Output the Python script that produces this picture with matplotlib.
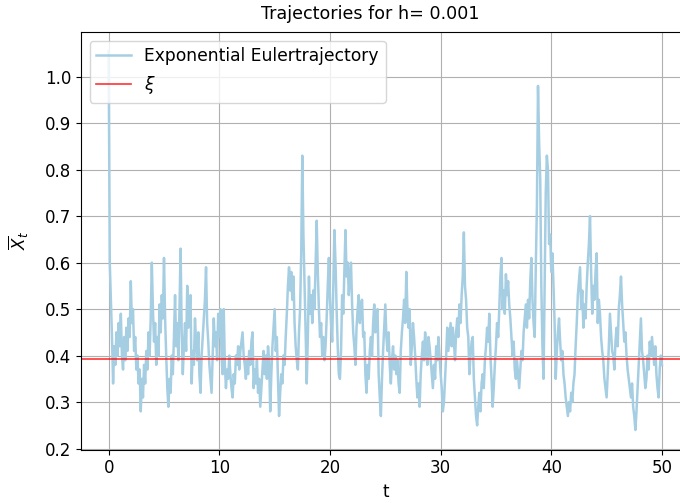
import numpy as np
import matplotlib
matplotlib.use("Agg")
import matplotlib.pyplot as plt

plt.rcParams['font.size'] = 12

# trajectory values, one every 0.1 time units
seg0 = [1.055, 0.60, 0.52, 0.44, 0.34, 0.42, 0.38, 0.45, 0.40, 0.47,
        0.42, 0.49, 0.40, 0.37, 0.44, 0.39, 0.46, 0.41, 0.48, 0.44,
        0.56, 0.47, 0.50, 0.41, 0.44, 0.37, 0.40, 0.34, 0.37, 0.28,
        0.35, 0.31, 0.38, 0.34, 0.41, 0.37, 0.45, 0.40, 0.48, 0.60,
        0.50, 0.43, 0.47, 0.38, 0.44, 0.40, 0.51, 0.45, 0.53, 0.48]
seg1 = [0.61, 0.48, 0.40, 0.33, 0.29, 0.35, 0.32, 0.40, 0.36, 0.44,
        0.53, 0.42, 0.47, 0.39, 0.50, 0.63, 0.45, 0.36, 0.42, 0.47,
        0.41, 0.55, 0.46, 0.50, 0.53, 0.34, 0.41, 0.38, 0.48, 0.43,
        0.39, 0.45, 0.36, 0.32, 0.40, 0.44, 0.48, 0.52, 0.59, 0.47,
        0.43, 0.38, 0.35, 0.32, 0.40, 0.48, 0.42, 0.45, 0.39, 0.49]
seg2 = [0.44, 0.50, 0.40, 0.36, 0.50, 0.38, 0.33, 0.37, 0.35, 0.40,
        0.36, 0.33, 0.31, 0.36, 0.34, 0.40, 0.38, 0.42, 0.37, 0.41,
        0.43, 0.45, 0.40, 0.38, 0.35, 0.39, 0.36, 0.41, 0.38, 0.43,
        0.45, 0.33, 0.37, 0.34, 0.39, 0.32, 0.35, 0.29, 0.33, 0.37,
        0.41, 0.36, 0.40, 0.35, 0.42, 0.39, 0.28, 0.36, 0.42, 0.46]
seg3 = [0.50, 0.41, 0.44, 0.35, 0.27, 0.32, 0.36, 0.34, 0.40, 0.38,
        0.44, 0.49, 0.55, 0.59, 0.54, 0.58, 0.52, 0.57, 0.47, 0.42,
        0.39, 0.37, 0.45, 0.50, 0.62, 0.83, 0.66, 0.56, 0.45, 0.34,
        0.44, 0.57, 0.49, 0.53, 0.47, 0.54, 0.50, 0.60, 0.69, 0.58,
        0.50, 0.44, 0.47, 0.40, 0.44, 0.39, 0.42, 0.48, 0.55, 0.61]
seg4 = [0.52, 0.47, 0.43, 0.55, 0.67, 0.60, 0.50, 0.42, 0.36, 0.35,
        0.41, 0.53, 0.49, 0.58, 0.67, 0.57, 0.60, 0.53, 0.57, 0.60,
        0.51, 0.45, 0.42, 0.38, 0.46, 0.50, 0.53, 0.47, 0.51, 0.52,
        0.44, 0.45, 0.36, 0.32, 0.38, 0.35, 0.41, 0.44, 0.40, 0.47,
        0.51, 0.45, 0.49, 0.50, 0.36, 0.31, 0.27, 0.35, 0.41, 0.46]
seg5 = [0.51, 0.44, 0.41, 0.45, 0.38, 0.34, 0.39, 0.42, 0.37, 0.40,
        0.36, 0.39, 0.34, 0.32, 0.41, 0.45, 0.48, 0.52, 0.47, 0.58,
        0.50, 0.46, 0.50, 0.38, 0.42, 0.47, 0.44, 0.40, 0.35, 0.31,
        0.34, 0.29, 0.36, 0.40, 0.43, 0.39, 0.45, 0.41, 0.38, 0.44,
        0.42, 0.39, 0.36, 0.33, 0.38, 0.35, 0.42, 0.39, 0.44, 0.40]
seg6 = [0.36, 0.33, 0.28, 0.30, 0.35, 0.40, 0.46, 0.41, 0.44, 0.47,
        0.42, 0.46, 0.43, 0.39, 0.45, 0.48, 0.44, 0.51, 0.47, 0.53,
        0.57, 0.665, 0.55, 0.52, 0.46, 0.44, 0.36, 0.40, 0.43, 0.44,
        0.35, 0.31, 0.27, 0.25, 0.29, 0.32, 0.28, 0.34, 0.36, 0.33,
        0.39, 0.42, 0.46, 0.43, 0.49, 0.40, 0.35, 0.29, 0.33, 0.38]
seg7 = [0.42, 0.47, 0.44, 0.50, 0.57, 0.61, 0.50, 0.54, 0.49, 0.575,
        0.53, 0.56, 0.51, 0.48, 0.44, 0.40, 0.43, 0.37, 0.35, 0.39,
        0.36, 0.33, 0.37, 0.41, 0.39, 0.45, 0.48, 0.51, 0.46, 0.52,
        0.48, 0.56, 0.61, 0.52, 0.47, 0.44, 0.59, 0.72, 0.98, 0.86,
        0.78, 0.55, 0.42, 0.35, 0.56, 0.75, 0.83, 0.80, 0.64, 0.66]
seg8 = [0.58, 0.62, 0.55, 0.47, 0.35, 0.41, 0.45, 0.48, 0.43, 0.39,
        0.41, 0.36, 0.34, 0.31, 0.29, 0.27, 0.30, 0.28, 0.32, 0.30,
        0.34, 0.36, 0.42, 0.47, 0.53, 0.56, 0.59, 0.50, 0.54, 0.46,
        0.51, 0.48, 0.55, 0.60, 0.64, 0.70, 0.58, 0.49, 0.55, 0.52,
        0.58, 0.62, 0.47, 0.52, 0.49, 0.44, 0.41, 0.39, 0.35, 0.33]
seg9 = [0.31, 0.36, 0.42, 0.49, 0.45, 0.41, 0.40, 0.37, 0.43, 0.46,
        0.42, 0.50, 0.53, 0.57, 0.51, 0.47, 0.43, 0.45, 0.40, 0.37,
        0.35, 0.33, 0.31, 0.34, 0.29, 0.27, 0.24, 0.28, 0.33, 0.38,
        0.43, 0.48, 0.41, 0.39, 0.36, 0.33, 0.35, 0.40, 0.37, 0.43,
        0.40, 0.44, 0.41, 0.38, 0.42, 0.36, 0.33, 0.31, 0.37, 0.40, 0.38]

xi = 0.393
h = 0.001

x_traj = np.array(seg0 + seg1 + seg2 + seg3 + seg4 + seg5 + seg6 + seg7 + seg8 + seg9)
t = np.linspace(0, 50, len(x_traj))

fig = plt.figure(figsize=(6.8, 5.03), dpi=100)
ax = fig.add_axes([81 / 680, 1 - 449.5 / 503, (689.6 - 81) / 680, (449.5 - 32) / 503])

ax.plot(t, x_traj, color='#a6cee3', linewidth=1.8, label='Exponential Eulertrajectory')
ax.axhline(xi, color='red', alpha=0.8, linewidth=1.2, label=r'$\xi$')

ax.set_xlim(-2.5, 52.5)
ax.set_ylim(0.198, 1.096)
ax.grid(True)
ax.spines['right'].set_visible(False)
ax.set_xlabel('t')
ax.set_ylabel(r'$\overline{X}_t$', labelpad=10)
ax.legend(loc='upper left', fontsize=12.3)
fig.text(370 / 680, 1 - 14 / 503, 'Trajectories for h= ' + str(h), ha='center', va='center', fontsize=12.6)

fig.savefig('out.png', dpi=100)
